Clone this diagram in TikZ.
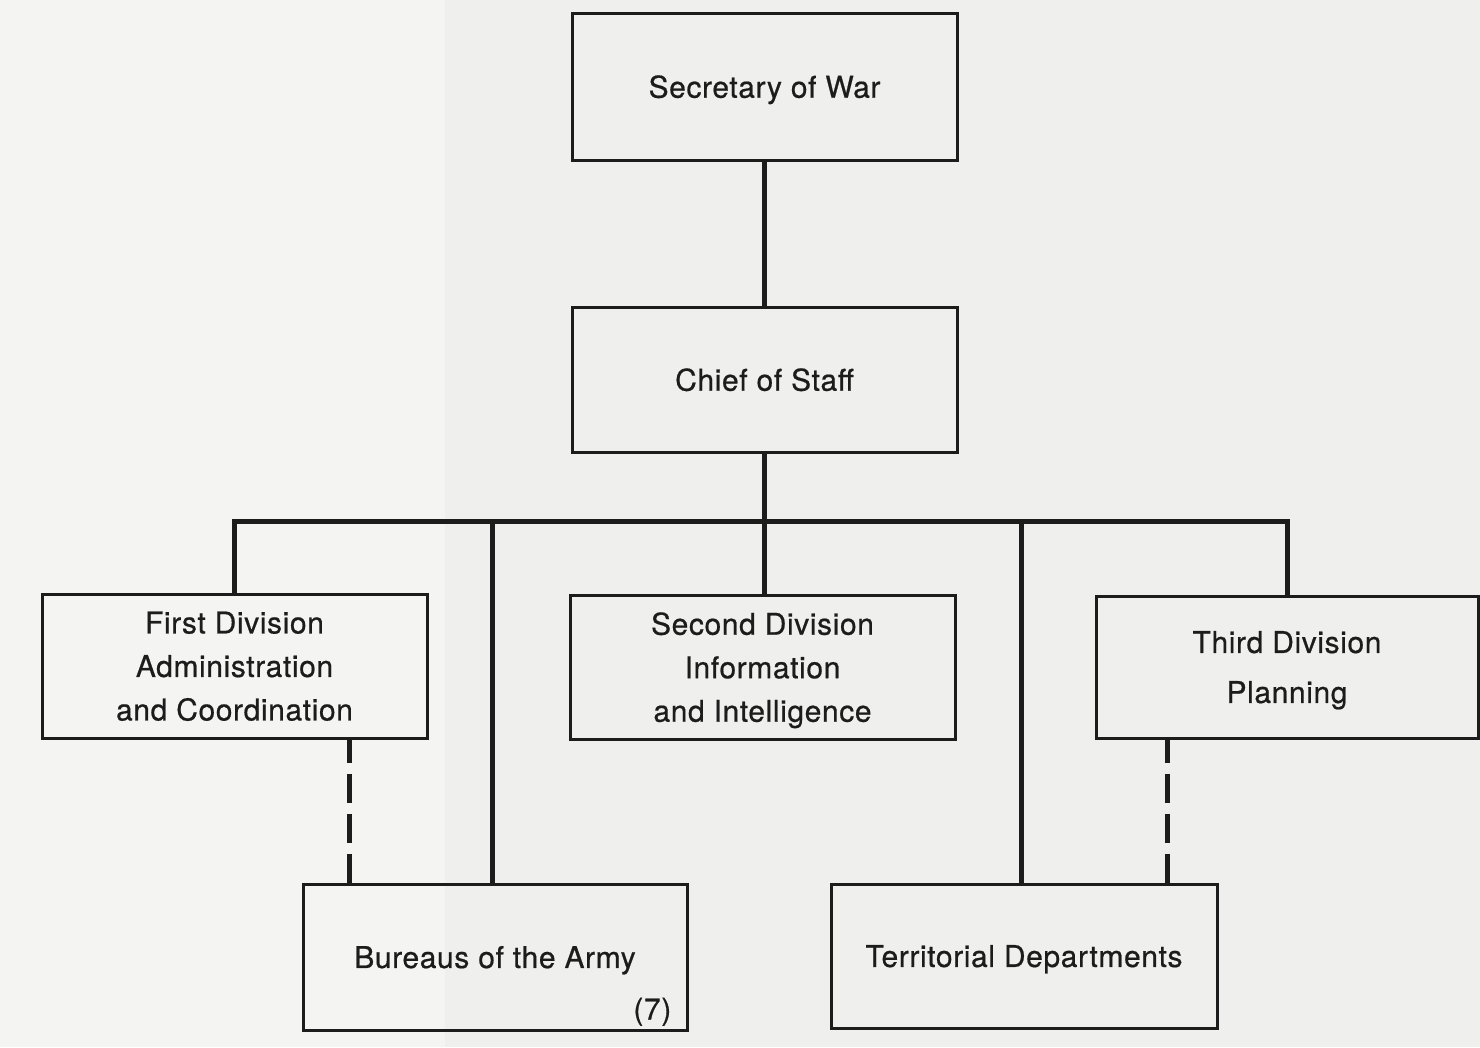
\documentclass[tikz,border=0pt]{standalone}
\usepackage{fontspec}
\setmainfont{TeX Gyre Heros}[LetterSpace=2, FakeBold=0.6]
\usetikzlibrary{calc}
\definecolor{paper}{HTML}{EFEFED}
\definecolor{paperlight}{HTML}{F4F4F3}
\definecolor{ink}{HTML}{1C1C1C}
\begin{document}
\begin{tikzpicture}[x=1pt,y=-1pt,
  box/.style={draw=ink, line width=3pt, inner sep=0pt, align=center, text depth=0pt,
    text=ink, font=\fontsize{30}{43.5}\selectfont},
  link/.style={draw=ink, line width=5pt},
  dotlink/.style={draw=ink, line width=5pt, dash pattern=on 29pt off 11pt, dash phase=6pt}]
  % page
  \fill[paper] (0,0) rectangle (1480,1047);
  \fill[paperlight] (0,0) rectangle (445,1047);
  \useasboundingbox (0,0) rectangle (1480,1047);

  % offices
  \node[box, minimum width=385pt, minimum height=147pt] (sec) at (764.5,86.5) {Secretary of War};
  \node[box, minimum width=385pt, minimum height=145pt] (cos) at (764.5,379.5) {Chief of Staff};
  \node[box, minimum width=385pt, minimum height=144pt] (first) at (234.5,666)
    {First Division\\Administration\\and Coordination};
  \node[box, minimum width=385pt, minimum height=144pt] (second) at (762.5,667)
    {Second Division\\Information\\and Intelligence};
  \node[box, minimum width=382pt, minimum height=142pt,
        font=\fontsize{30}{50}\selectfont] (third) at (1287,667)
    {Third Division\\Planning};
  \node[box, minimum width=384pt, minimum height=146pt] (bureaus) at (495,957)
    {Bureaus of the Army};
  \node[anchor=base east, inner sep=0pt, text=ink, font=\fontsize{30}{34}\selectfont] (seven)
    at ($(bureaus.south east)+(-17,-12)$) {(7)};
  \node[box, minimum width=386pt, minimum height=144pt] (terr) at (1024,956)
    {Territorial Departments};

  % line of command
  \coordinate (bus) at (cos.south |- 0,521);
  \coordinate (d1) at (349,0);
  \coordinate (d2) at (1167,0);
  \draw[link] (sec.south) -- (cos.north);
  \draw[link] (cos.south) -- (bus);
  \draw[link, line join=miter] (first.north) |- (bus) -| (third.north);
  \draw[link] (bus) -- (bus |- second.north);
  \draw[link] (bureaus.north) ++(-3,0) coordinate (b1) -- (b1 |- bus);
  \draw[link] (terr.north) ++(-3,0) coordinate (t1) -- (t1 |- bus);

  % coordination links
  \draw[dotlink] (first.south -| d1) -- (bureaus.north -| d1);
  \draw[dotlink] (third.south -| d2) -- (terr.north -| d2);
\end{tikzpicture}
\end{document}
